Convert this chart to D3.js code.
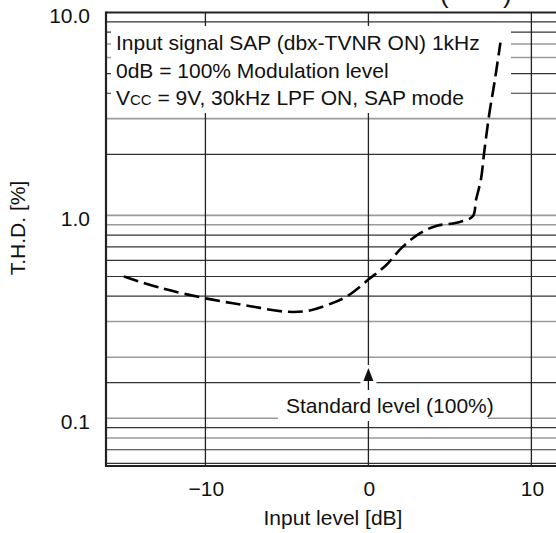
<!DOCTYPE html>
<html><head><meta charset="utf-8">
<script src="https://cdn.jsdelivr.net/npm/d3@7/dist/d3.min.js"></script>
<style>
html,body{margin:0;padding:0;background:#fff;}
svg{display:block;font-family:"Liberation Sans",Arial,Helvetica,sans-serif;}
</style></head>
<body><svg id="c" width="556" height="533"></svg>
<script>
// ---- data ----
const inputLevelDB = [-15, -12.8, -10, -7.5, -5, -3.6, -2.2, -1.3, 0.1, 1.1, 2.1, 3.2, 4.2, 5.4, 6.4, 6.6, 6.9, 7.12, 7.45, 7.66, 7.87, 8.1];
const thdPercent   = [0.50, 0.44, 0.39, 0.36, 0.335, 0.34, 0.37, 0.40, 0.49, 0.57, 0.70, 0.82, 0.89, 0.92, 0.99, 1.19, 1.5, 2.1, 3.3, 4.15, 5.33, 7.1];
const xTickValues = [-10, 0, 10];
const xTickLabels = ["\u221210", "0", "10"];
const yTickValues = [10, 1, 0.1];
const yTickLabels = ["10.0", "1.0", "0.1"];
const yGridValues = [9, 8, 7, 6, 5, 4, 3, 2, 1, 0.9, 0.8, 0.7, 0.6, 0.5, 0.4, 0.3, 0.2, 0.15, 0.1, 0.09, 0.08, 0.07, 0.06];
const yGridLight = [7, 6, 3, 1, 0.9, 0.3, 0.2, 0.1, 0.08];
const noteLines = ["Input signal SAP (dbx-TVNR ON) 1kHz", "0dB = 100% Modulation level"];
const standardNote = "Standard level (100%)";
const standardLevelDB = 0;

// ---- layout ----
const svg = d3.select("#c");
const W = 556, H = 533;
const x = d3.scaleLinear().domain([-16.1, 11.7]).range([106, 559.1]);
const y = d3.scaleLog().domain([0.0582, 10]).range([466, 12.5]);
const plotLeft = x(-16.1), plotTop = y(10), plotBottom = y(0.0582);
const FS = 21;

// grid horizontal
svg.append("g").selectAll("line").data(yGridValues).join("line")
  .attr("x1", plotLeft).attr("x2", W)
  .attr("y1", d => y(d)).attr("y2", d => y(d))
  .attr("stroke", d => yGridLight.includes(d) ? "#9a9a9a" : "#333")
  .attr("stroke-width", d => yGridLight.includes(d) ? 1.6 : 1.2);

// grid vertical
svg.append("g").selectAll("line").data(xTickValues).join("line")
  .attr("x1", d => x(d)).attr("x2", d => x(d))
  .attr("y1", plotTop).attr("y2", plotBottom)
  .attr("stroke", "#222").attr("stroke-width", 1.3);

// borders
svg.append("line").attr("x1", plotLeft).attr("x2", W).attr("y1", plotTop).attr("y2", plotTop)
  .attr("stroke", "#222").attr("stroke-width", 1.8);
svg.append("line").attr("x1", plotLeft).attr("x2", W).attr("y1", plotBottom).attr("y2", plotBottom)
  .attr("stroke", "#222").attr("stroke-width", 1.8);
svg.append("line").attr("x1", plotLeft).attr("x2", plotLeft).attr("y1", plotTop - 1).attr("y2", plotBottom + 1)
  .attr("stroke", "#222").attr("stroke-width", 2.2);

// annotation box (white background hiding grid)
svg.append("rect").attr("x", 111).attr("y", 26).attr("width", 400).attr("height", 87).attr("fill", "#fff");
const note = svg.append("g").attr("font-size", FS).attr("fill", "#111");
noteLines.forEach((t, i) => {
  note.append("text").attr("x", 116).attr("y", 50 + i * 27.5).text(t);
});
const l3 = note.append("text").attr("x", 116).attr("y", 105);
l3.append("tspan").text("V");
l3.append("tspan").attr("font-size", 15).text("CC");
l3.append("tspan").text(" = 9V, 30kHz LPF ON, SAP mode");

// standard level arrow + label
const ax = x(standardLevelDB);
svg.append("rect").attr("x", ax - 8).attr("y", 365).attr("width", 16).attr("height", 27).attr("fill", "#fff");
svg.append("rect").attr("x", 278).attr("y", 391).attr("width", 210).attr("height", 30).attr("fill", "#fff");
svg.append("line").attr("x1", ax).attr("x2", ax).attr("y1", 380).attr("y2", 390)
  .attr("stroke", "#111").attr("stroke-width", 1.3);
svg.append("path").attr("d", `M${ax},368 L${ax - 5},381 L${ax + 5},381 Z`).attr("fill", "#111");
svg.append("text").attr("x", 286).attr("y", 413).attr("font-size", FS).attr("fill", "#111").text(standardNote);

// curve
const line = d3.line().x((d, i) => x(inputLevelDB[i])).y(d => y(d)).curve(d3.curveCatmullRom.alpha(0.5));
svg.append("path").datum(thdPercent).attr("d", line)
  .attr("fill", "none").attr("stroke", "#000").attr("stroke-width", 2.6)
  .attr("stroke-dasharray", "15,6");

// y tick labels
svg.append("g").selectAll("text").data(yTickValues).join("text")
  .attr("x", 90).attr("y", d => y(d) + 3).attr("dy", "0.35em")
  .attr("text-anchor", "end").attr("font-size", FS).attr("fill", "#111")
  .text((d, i) => yTickLabels[i]);

// x tick labels
svg.append("g").selectAll("text").data(xTickValues).join("text")
  .attr("x", d => x(d) + 1).attr("y", 496)
  .attr("text-anchor", "middle").attr("font-size", FS).attr("fill", "#111")
  .text((d, i) => xTickLabels[i]);

// axis titles
svg.append("text").attr("x", 333).attr("y", 525).attr("text-anchor", "middle")
  .attr("font-size", FS).attr("fill", "#111").text("Input level [dB]");
svg.append("text").attr("transform", "translate(25,228) rotate(-90)").attr("text-anchor", "middle")
  .attr("font-size", FS).attr("fill", "#111").text("T.H.D. [%]");

// cropped title fragment at top (cut off by the image edge, as in the reference)
svg.append("text").attr("x", 440).attr("y", 3).attr("font-size", 26).attr("fill", "#111").text("(");
svg.append("text").attr("x", 503).attr("y", 3).attr("font-size", 26).attr("fill", "#111").text(")");
</script></body></html>
